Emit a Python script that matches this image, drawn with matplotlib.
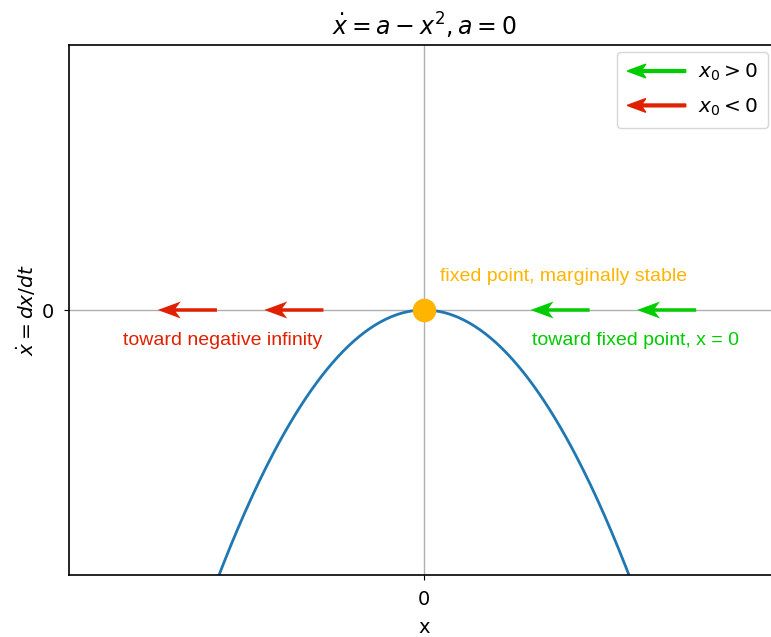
import numpy as np
import matplotlib
matplotlib.use("Agg")
import matplotlib.pyplot as plt
from matplotlib.patches import Polygon
from matplotlib.legend_handler import HandlerPatch

# normal form of the saddle-node bifurcation at a = 0
a = 0.0
x_lim = 3.0
y_lim = 3.0

# flow arrows along the x axis: start position and displacement
red_x = [-0.85, -1.75]
red_dx = [-0.5, -0.5]
green_x = [1.4, 2.3]
green_dx = [-0.5, -0.5]
fixed_x = [0.0]

RED = "#e02000"
GREEN = "#00cc00"
ORANGE = "#ffb400"
TEXT_FONT = "Liberation Sans"

# arrow geometry in pixels
SHAFT = 3.5
HEAD_W = 17
HEAD_L = 23
HEAD_AX = 18

x = np.linspace(-x_lim, x_lim, 400)
xdot = a - x ** 2

fig = plt.figure(figsize=(7.71, 6.37), dpi=100)
ax = fig.add_axes([69 / 771, 62 / 637, 710 / 771, 530 / 637])

ax.axhline(0, color="#b0b0b0", lw=1, zorder=1)
ax.axvline(0, color="#b0b0b0", lw=1, zorder=1)
ax.plot(x, xdot, color="tab:blue", lw=2, zorder=2)
ax.plot(fixed_x, [a], "o", color=ORANGE, ms=16, zorder=4)

qkw = dict(angles="xy", scale_units="xy", scale=1, units="dots", width=SHAFT,
           headwidth=HEAD_W / SHAFT, headlength=HEAD_L / SHAFT,
           headaxislength=HEAD_AX / SHAFT, zorder=3)
ax.quiver(red_x, np.zeros(len(red_x)), red_dx, np.zeros(len(red_x)), color=RED, **qkw)
ax.quiver(green_x, np.zeros(len(green_x)), green_dx, np.zeros(len(green_x)), color=GREEN, **qkw)

ax.text(-1.70, -0.245, "toward negative infinity", color=RED, fontsize=14,
        family=TEXT_FONT, ha="center", va="top")
ax.text(1.79, -0.245, "toward fixed point, x = 0", color=GREEN, fontsize=14,
        family=TEXT_FONT, ha="center", va="top")
ax.text(0.135, 0.28, "fixed point, marginally stable", color=ORANGE, fontsize=14,
        family=TEXT_FONT, ha="left", va="bottom")

ax.set_xlim(-x_lim, x_lim)
ax.set_ylim(-y_lim, y_lim)
ax.set_xticks([0])
ax.set_yticks([0])
ax.tick_params(labelsize=14, pad=7)
ax.set_xlabel("x", fontsize=14, labelpad=7)
ax.set_ylabel(r"$\dot{x} = dx/dt$", fontsize=14.5, labelpad=3)
ax.set_title(r"$\dot{x} = a - x^2, a = 0$", fontsize=17, pad=6.5)
ax.spines["right"].set_visible(False)
for s in ("left", "top", "bottom"):
    ax.spines[s].set_linewidth(1.2)


def arrow_handle(legend, orig_handle, xdescent, ydescent, width, height, fontsize):
    # same outline as the quiver arrows, pointing left
    k = 0.58
    c = 0.5 * height
    hl, ha, hw, sw = HEAD_L * k, HEAD_AX * k, HEAD_W * k / 2, SHAFT * k / 2
    verts = [(0, c), (hl, c + hw), (ha, c + sw), (width, c + sw),
             (width, c - sw), (ha, c - sw), (hl, c - hw)]
    return Polygon(verts, closed=True, lw=0)


h_green = Polygon([[0, 0]], color=GREEN)
h_red = Polygon([[0, 0]], color=RED)
ax.legend([h_green, h_red], [r"$x_0 > 0$", r"$x_0 < 0$"], fontsize=14.5,
          handler_map={Polygon: HandlerPatch(patch_func=arrow_handle)},
          loc="upper right", bbox_to_anchor=(768 / 771, 585 / 637),
          bbox_transform=fig.transFigure, borderaxespad=0, handlelength=2.9,
          handletextpad=0.6, borderpad=0.5, labelspacing=0.65)

fig.savefig("out.png", dpi=100)
